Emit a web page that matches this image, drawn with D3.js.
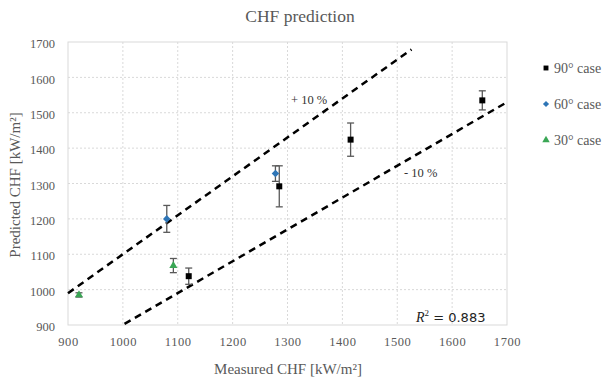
<!DOCTYPE html>
<html><head><meta charset="utf-8">
<script src="https://cdn.jsdelivr.net/npm/d3@7"></script>
<style>body{margin:0;background:#fff}svg{display:block}text{font-family:"Liberation Serif","Times New Roman",serif}</style>
</head><body><svg id="c" width="606" height="381"></svg>
<script>
const xTicks=[900,1000,1100,1200,1300,1400,1500,1600,1700];
const yTicks=[900,1000,1100,1200,1300,1400,1500,1600,1700];
const s90x=[1120,1285,1415,1655], s90y=[1038,1292,1424,1535], s90e=[23,58,47,27];
const s60x=[1080,1278], s60y=[1200,1328], s60e=[38,22];
const s30x=[920,1092], s30y=[985,1068], s30e=[6,20];
const plusLine=[[900,990],[1526,1679]];
const minusLine=[[1003,903],[1700,1530]];
const seriesNames=["90° case","60° case","30° case"];

const svg=d3.select("#c");
const L=68,R=507,T=42,B=325;
const x=d3.scaleLinear().domain([900,1700]).range([L,R]);
const y=d3.scaleLinear().domain([900,1700]).range([B,T]);
const grey="#595959";
const serif="'Liberation Serif','Times New Roman',serif";

// grid
svg.append("g").selectAll("line").data(xTicks.slice(1,-1)).join("line")
 .attr("x1",d=>x(d)).attr("x2",d=>x(d)).attr("y1",T).attr("y2",B)
 .attr("stroke","#d9d9d9").attr("stroke-dasharray","2,2");
svg.append("g").selectAll("line").data(yTicks.slice(1,-1)).join("line")
 .attr("y1",d=>y(d)).attr("y2",d=>y(d)).attr("x1",L).attr("x2",R)
 .attr("stroke","#d9d9d9").attr("stroke-dasharray","2,2");
svg.append("rect").attr("x",L).attr("y",T).attr("width",R-L).attr("height",B-T)
 .attr("fill","none").attr("stroke","#d9d9d9");

// axes
const fmt=d3.format("d");
const xa=svg.append("g").attr("transform",`translate(0,${B})`).call(d3.axisBottom(x).tickValues(xTicks).tickFormat(fmt).tickSize(0).tickPadding(12));
const ya=svg.append("g").attr("transform",`translate(${L},0)`).call(d3.axisLeft(y).tickValues(yTicks).tickFormat(fmt).tickSize(0).tickPadding(13));
[xa,ya].forEach(a=>{a.attr("font-family",serif).attr("font-size",12.5);a.select(".domain").remove();a.selectAll("text").attr("fill",grey);});
xa.selectAll("text").attr("letter-spacing","0.6px");
ya.selectAll("text").attr("dy","0.45em");

// dashed lines
const line=d3.line().x(d=>x(d[0])).y(d=>y(d[1]));
[plusLine,minusLine].forEach(l=>svg.append("path").attr("d",line(l)).attr("fill","none")
 .attr("stroke","#000").attr("stroke-width",2.5).attr("stroke-dasharray","7,5"));

// error bars + markers
function series(xs,ys,es,shape,color,size){
 const g=svg.append("g");
 xs.forEach((xv,i)=>{
  const cx=x(xv),t=y(ys[i]+es[i]),b=y(ys[i]-es[i]);
  g.append("line").attr("x1",cx).attr("x2",cx).attr("y1",t).attr("y2",b).attr("stroke",grey).attr("stroke-width",1.3);
  [t,b].forEach(v=>g.append("line").attr("x1",cx-3.5).attr("x2",cx+3.5).attr("y1",v).attr("y2",v).attr("stroke",grey).attr("stroke-width",1.3));
 });
 g.selectAll("path.m").data(xs).join("path").attr("class","m")
  .attr("transform",(d,i)=>`translate(${x(d)},${y(ys[i])})`)
  .attr("d",d3.symbol(shape,size)).attr("fill",color);
}
const cols=["#000000","#2e75b6","#3aa655"];
const shapes=[d3.symbolSquare,d3.symbolDiamond2||d3.symbolDiamond,d3.symbolTriangle];
series(s90x,s90y,s90e,shapes[0],cols[0],36);
series(s60x,s60y,s60e,shapes[1],cols[1],36);
series(s30x,s30y,s30e,shapes[2],cols[2],28);

// legend
seriesNames.forEach((n,i)=>{
 const yy=68+i*36;
 svg.append("path").attr("transform",`translate(546,${yy})`).attr("d",d3.symbol(shapes[i],24)).attr("fill",cols[i]);
 svg.append("text").attr("x",554).attr("y",yy+4.5).attr("fill",grey).style("font-size","14px").text(n);
});

// labels
svg.append("text").attr("x",300).attr("y",22).attr("text-anchor","middle").attr("fill",grey).style("font-size","17.5px").text("CHF prediction");
svg.append("text").attr("x",288).attr("y",374).attr("text-anchor","middle").attr("fill",grey).style("font-size","15px").text("Measured CHF [kW/m²]");
svg.append("text").attr("transform","translate(20,185) rotate(-90)").attr("text-anchor","middle").attr("fill",grey).style("font-size","15px").text("Predicted  CHF [kW/m²]");
svg.append("text").attr("x",291).attr("y",104).attr("fill","#333").style("font-size","12.5px").text("+ 10 %");
svg.append("text").attr("x",404).attr("y",177).attr("fill","#333").style("font-size","12.5px").text("- 10 %");
const r2=svg.append("text").attr("x",416).attr("y",322).attr("fill","#222").style("font-size","14px");
r2.append("tspan").style("font-style","italic").text("R");
r2.append("tspan").attr("dy",-6).style("font-size","9px").text("2");
r2.append("tspan").attr("dy",6).style("font-family","'DejaVu Sans',sans-serif").style("font-size","13px").text(" = 0.883");
</script></body></html>
